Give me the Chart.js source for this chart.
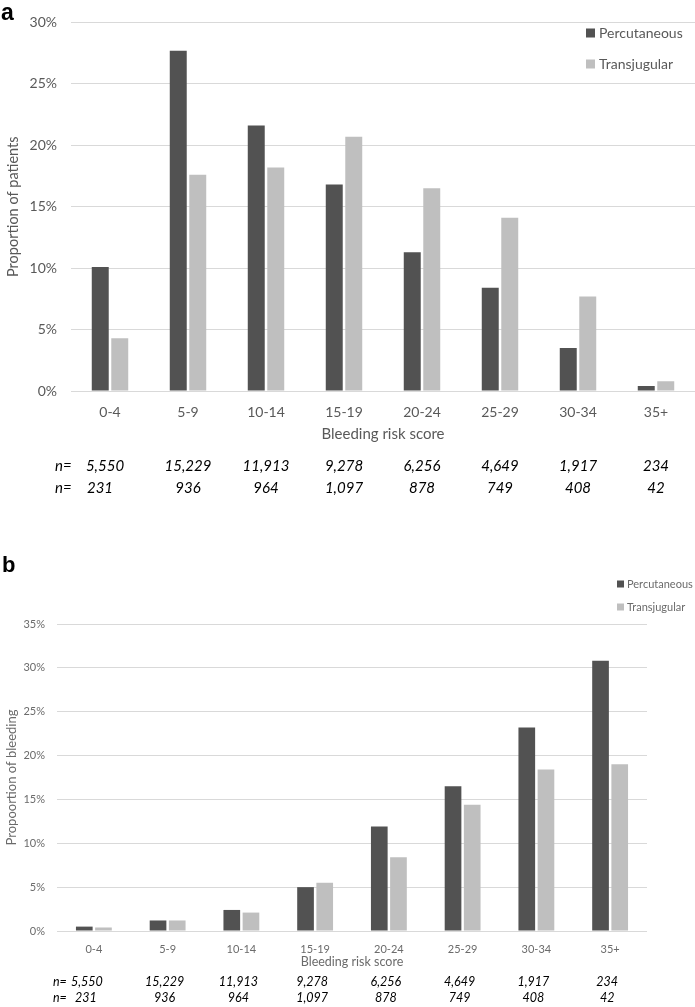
<!DOCTYPE html>
<html>
<head>
<meta charset="utf-8">
<script src="https://cdn.jsdelivr.net/npm/chart.js@4.4.1/dist/chart.umd.min.js"></script>
<style>
  body { margin: 0; background: #fff; }
  canvas { position: absolute; left: 0; }
  #chartA { top: 0; }
  #chartB { top: 480px; }
</style>
</head>
<body>
<canvas id="chartA" width="695" height="500"></canvas>
<canvas id="chartB" width="695" height="527"></canvas>
<script>
/* Data */
const categories = ['0-4', '5-9', '10-14', '15-19', '20-24', '25-29', '30-34', '35+'];
const seriesNames = ['Percutaneous', 'Transjugular'];

// panel a - proportion of patients (%)
const patientsPerc = [10.1, 27.7, 21.6, 16.8, 11.3, 8.4, 3.5, 0.4];
const patientsTrans = [4.3, 17.6, 18.2, 20.7, 16.5, 14.1, 7.7, 0.8];

// panel b - proportion of bleeding (%)
const bleedPerc = [0.5, 1.2, 2.4, 5.0, 11.9, 16.5, 23.2, 30.8];
const bleedTrans = [0.4, 1.2, 2.1, 5.5, 8.4, 14.4, 18.4, 19.0];

// n per group
const nPerc = ['5,550', '15,229', '11,913', '9,278', '6,256', '4,649', '1,917', '234'];
const nTrans = ['231', '936', '964', '1,097', '878', '749', '408', '42'];

/* Styles */
const darkGrey = '#525252';
const lightGrey = '#bfbfbf';
const gridGrey = '#d9d9d9';
const fontFamily = 'Lato, "Open Sans", sans-serif';

// draws the "n=" rows under the x axis
const nRowsPlugin = {
  id: 'nRows',
  afterDraw(chart, args, opts) {
    const ctx = chart.ctx;
    const x = chart.scales.x;
    ctx.save();
    ctx.fillStyle = '#000';
    ctx.font = 'italic ' + opts.size + 'px ' + fontFamily;
    ctx.textBaseline = 'middle';
    opts.rows.forEach(function (row, r) {
      const y = opts.y[r];
      ctx.textAlign = 'left';
      ctx.fillText('n=', opts.nX, y);
      ctx.textAlign = 'center';
      row.forEach(function (txt, i) {
        const off = i === 0 ? opts.firstOffset[r] : opts.offset;
        ctx.fillText(txt, x.getPixelForValue(i) + off, y);
      });
    });
    ctx.restore();
  }
};

// legend in the top right corner + panel letter
const sideLegendPlugin = {
  id: 'sideLegend',
  afterDraw(chart, args, opts) {
    const ctx = chart.ctx;
    ctx.save();
    ctx.textBaseline = 'middle';
    ctx.textAlign = 'left';
    chart.data.datasets.forEach(function (ds, i) {
      const y = opts.y[i];
      ctx.fillStyle = ds.backgroundColor;
      ctx.fillRect(opts.x, y - opts.box / 2, opts.box, opts.box);
      ctx.fillStyle = opts.color;
      ctx.font = opts.size + 'px ' + fontFamily;
      ctx.fillText(ds.label, opts.x + opts.box + opts.gap, y);
    });
    ctx.fillStyle = '#000';
    ctx.textBaseline = 'alphabetic';
    ctx.font = 'bold ' + opts.tagSize + 'px "Liberation Sans", Arial, sans-serif';
    ctx.fillText(opts.tag, opts.tagX, opts.tagY);
    ctx.restore();
  }
};

function makeChart(id, cfg) {
  const ctx = document.getElementById(id).getContext('2d');
  return new Chart(ctx, {
    type: 'bar',
    data: {
      labels: categories,
      datasets: [
        { label: seriesNames[0], data: cfg.perc, backgroundColor: darkGrey },
        { label: seriesNames[1], data: cfg.trans, backgroundColor: lightGrey }
      ]
    },
    options: {
      responsive: false,
      animation: false,
      layout: { padding: { top: cfg.top, bottom: cfg.bottom, left: 0, right: cfg.right } },
      datasets: { bar: { categoryPercentage: cfg.catPct, barPercentage: 0.87 } },
      scales: {
        x: {
          grid: { display: false },
          border: { display: false },
          ticks: { color: cfg.textColor, padding: cfg.xPad, font: { family: fontFamily, size: cfg.tickSize } },
          title: {
            display: true, text: 'Bleeding risk score', color: cfg.textColor, padding: 0,
            font: { family: fontFamily, size: cfg.xTitleSize }
          },
          afterFit: function (s) { s.height = cfg.xHeight; }
        },
        y: {
          min: 0,
          max: cfg.max,
          ticks: {
            stepSize: 5,
            padding: cfg.yPad,
            color: cfg.textColor,
            font: { family: fontFamily, size: cfg.tickSize },
            callback: function (v) { return v + '%'; }
          },
          grid: { color: gridGrey, drawTicks: false, lineWidth: 1 },
          border: { display: false },
          title: {
            display: true, text: cfg.yTitle, color: cfg.textColor,
            padding: { top: cfg.yTitleTop, bottom: 0 },
            font: { family: fontFamily, size: cfg.yTitleSize }
          },
          afterFit: function (s) { s.width = cfg.yWidth; }
        }
      },
      plugins: {
        legend: { display: false },
        tooltip: { enabled: false },
        nRows: cfg.nRows,
        sideLegend: cfg.legend
      }
    },
    plugins: [nRowsPlugin, sideLegendPlugin]
  });
}

document.addEventListener('DOMContentLoaded', function () {

  makeChart('chartA', {
    perc: patientsPerc,
    trans: patientsTrans,
    max: 30,
    yTitle: 'Proportion of patients',
    top: 21, bottom: 57, right: 0,
    xHeight: 52, yWidth: 71,
    xPad: 5, yPad: 14,
    catPct: 0.5,
    tickSize: 14, xTitleSize: 15, yTitleSize: 14.5, yTitleTop: 5,
    textColor: '#595959',
    nRows: { rows: [nPerc, nTrans], y: [466, 488], size: 15, nX: 55, offset: 0, firstOffset: [-5, -10] },
    legend: { x: 586, y: [33, 64], box: 9, gap: 4, size: 14, color: '#595959', tag: 'a', tagX: 1, tagY: 20, tagSize: 23 }
  });

  makeChart('chartB', {
    perc: bleedPerc,
    trans: bleedTrans,
    max: 35,
    yTitle: 'Propoortion of bleeding',
    top: 144, bottom: 38, right: 48,
    xHeight: 38, yWidth: 57,
    xPad: 4, yPad: 12,
    catPct: 0.52,
    tickSize: 11, xTitleSize: 12.5, yTitleSize: 13, yTitleTop: 4,
    textColor: '#6b6b6b',
    nRows: { rows: [nPerc, nTrans], y: [501.7, 518.3], size: 12.5, nX: 53, offset: -3, firstOffset: [-7, -8] },
    legend: { x: 617, y: [104, 127], box: 7, gap: 3, size: 11, color: '#6b6b6b', tag: 'b', tagX: 2, tagY: 92, tagSize: 22 }
  });
});
</script>
</body>
</html>
